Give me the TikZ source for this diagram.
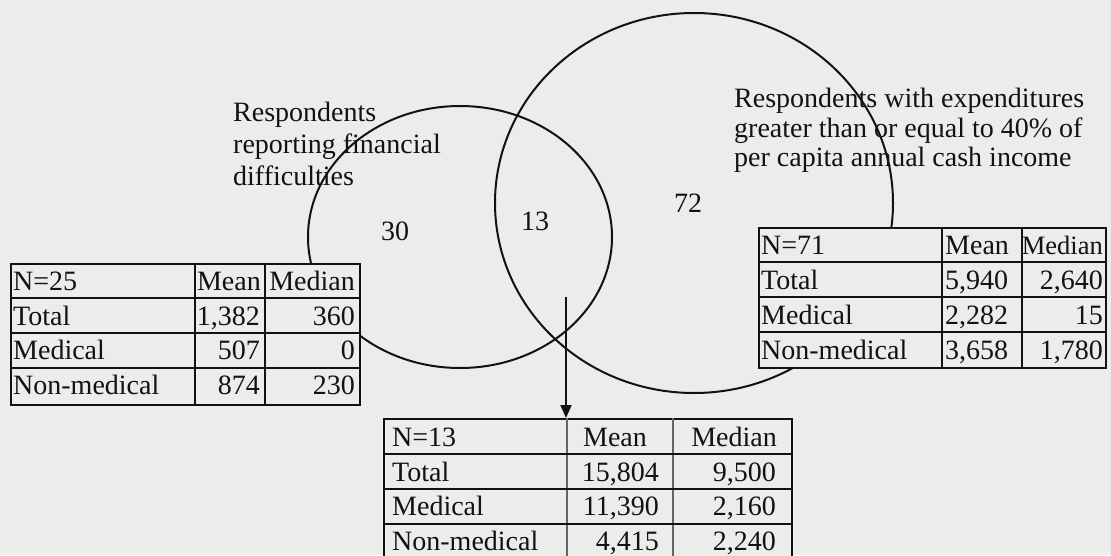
\documentclass[tikz,border=0pt]{standalone}
\usepackage{fontspec}
\setmainfont{Liberation Serif}
\usetikzlibrary{arrows.meta}
\definecolor{paper}{RGB}{236,236,234}
\definecolor{ink}{RGB}{18,18,18}
\begin{document}
\begin{tikzpicture}[x=1pt,y=-1pt,
  every node/.style={inner sep=0pt, text=ink, font=\fontsize{28}{32}\selectfont},
  setline/.style={draw=ink, line width=2pt},
  frame/.style={draw=ink, fill=paper, line width=2pt, anchor=north west, inner sep=0pt},
  rule/.style={draw=ink, line width=1.6pt},
  thinrule/.style={draw=ink!65, line width=1.1pt},
  lft/.style={anchor=base west},
  rgt/.style={anchor=base east},
  mid/.style={anchor=base},
  pointer/.style={draw=ink, line width=1.9pt, -{Triangle[length=13pt,width=11pt]}}
]
\fill[paper] (0,0) rectangle (1111,555);
\useasboundingbox (0,0) rectangle (1111,555);

% the two overlapping sets
\draw[setline] (460,237) ellipse [x radius=152pt, y radius=131pt];
\draw[setline] (694,203) ellipse [x radius=199pt, y radius=190pt];

% set labels
\node[lft] (fin1) at (233,121) {Respondents};
\node[lft] (fin2) at (233,153) {reporting financial};
\node[lft] (fin3) at (233,185) {difficulties};
\node[lft] (exp1) at (734,107) {Respondents with expenditures};
\node[lft] (exp2) at (734,137) {greater than or equal to 40\% of};
\node[lft] (exp3) at (734,166) {per capita annual cash income};

% region counts
\node (n30) at (395,231) {30};
\node (n13) at (535,221) {13};
\node (n72) at (688,203) {72};

% ---- table: financial difficulties only
\node[frame, minimum width=349pt, minimum height=141pt] (ltab) at (10,263) {};
\draw[rule] (195,263) -- (195,404) (265,263) -- (265,404);
\draw[rule] (10,298) -- (359,298) (10,333) -- (359,333) (10,368) -- (359,368);
\node[lft] (l11) at (13,290) {N=25};
\node[rgt] (l12) at (261,290) {Mean};
\node[rgt] (l13) at (355,290) {Median};
\node[lft] (l21) at (13,325) {Total};
\node[rgt] (l22) at (260,325) {1,382};
\node[rgt] (l23) at (355,325) {360};
\node[lft] (l31) at (13,359) {Medical};
\node[rgt] (l32) at (260,359) {507};
\node[rgt] (l33) at (355,359) {0};
\node[lft] (l41) at (13,394) {Non-medical};
\node[rgt] (l42) at (260,394) {874};
\node[rgt] (l43) at (355,394) {230};

% ---- table: high expenditure only
\node[frame, minimum width=347pt, minimum height=140pt] (rtab) at (758,227) {};
\draw[rule] (942,227) -- (942,367) (1022,227) -- (1022,367);
\draw[rule] (758,262) -- (1105,262) (758,297) -- (1105,297) (758,332) -- (1105,332);
\node[lft] (r11) at (761,254) {N=71};
\node[lft] (r12) at (945,254) {Mean};
\node[rgt, font=\fontsize{26.5}{30}\selectfont] (r13) at (1103,254) {Median};
\node[lft] (r21) at (761,289) {Total};
\node[lft] (r22) at (945,289) {5,940};
\node[rgt] (r23) at (1103,289) {2,640};
\node[lft] (r31) at (761,324) {Medical};
\node[lft] (r32) at (945,324) {2,282};
\node[rgt] (r33) at (1103,324) {15};
\node[lft] (r41) at (761,359) {Non-medical};
\node[lft] (r42) at (945,359) {3,658};
\node[rgt] (r43) at (1103,359) {1,780};

% ---- table: intersection of both sets
\node[frame, minimum width=408pt, minimum height=142pt] (btab) at (383,418) {};
\draw[thinrule] (567,418) -- (567,560) (673,418) -- (673,560);
\draw[rule] (383,454) -- (791,454) (383,489) -- (791,489) (383,524) -- (791,524);
\node[lft] (b11) at (392,446) {N=13};
\node[mid] (b12) at (615,446) {Mean};
\node[rgt] (b13) at (777,446) {Median};
\node[lft] (b21) at (392,481) {Total};
\node[rgt] (b22) at (659,481) {15,804};
\node[rgt] (b23) at (776,481) {9,500};
\node[lft] (b31) at (392,515) {Medical};
\node[rgt] (b32) at (659,515) {11,390};
\node[rgt] (b33) at (776,515) {2,160};
\node[lft] (b41) at (392,550) {Non-medical};
\node[rgt] (b42) at (659,550) {4,415};
\node[rgt] (b43) at (776,550) {2,240};

% pointer from the overlap down to its table
\coordinate (overlap) at (566,297);
\draw[pointer] (overlap) -- (overlap |- btab.north);
\end{tikzpicture}
\end{document}
